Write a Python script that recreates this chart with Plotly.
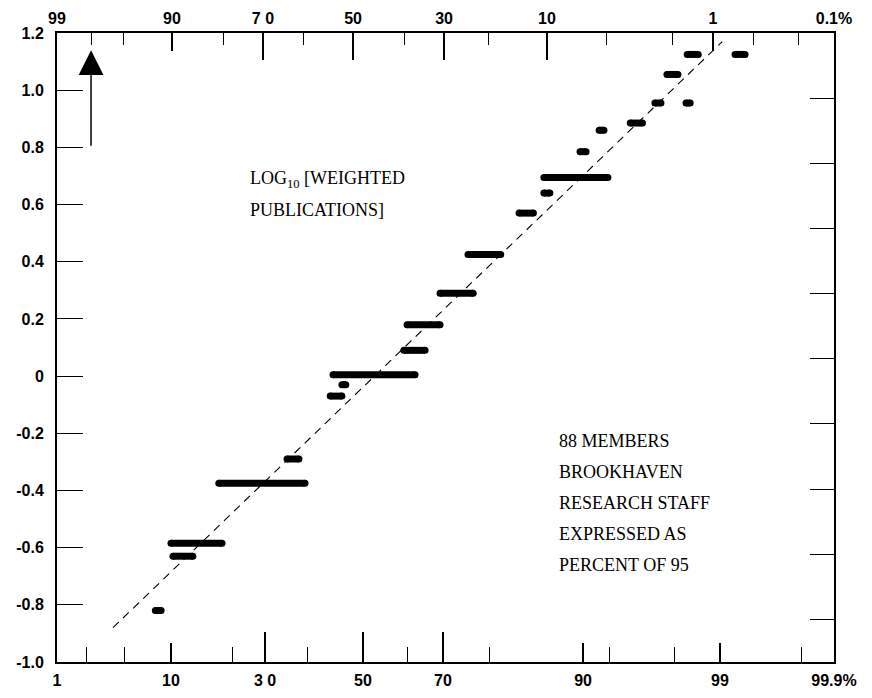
import numpy as np
import plotly.graph_objects as go
from statistics import NormalDist

# ---------------- data ----------------
# log10(weighted publications) level of each plotted bar
LEVEL = [-0.82, -0.63, -0.585, -0.375, -0.29, -0.07, -0.03, 0.005, 0.09, 0.18,
         0.29, 0.425, 0.57, 0.64, 0.695, 0.785, 0.86, 0.885, 0.955, 0.955,
         1.055, 1.125, 1.125]
# cumulative percent span of each bar (bottom scale)
PCT_LO = [8.0, 10.25, 10.0, 17.3, 35.1, 44.1, 46.2, 44.6, 59.1, 59.8,
          69.2, 75.7, 83.7, 86.4, 86.4, 89.75, 93.3, 96.2, 97.33, 98.32,
          97.77, 98.35, 99.24]
PCT_HI = [8.7, 13.0, 17.9, 39.5, 38.0, 46.2, 46.9, 62.1, 65.0, 69.2,
          76.8, 81.5, 85.3, 87.0, 94.7, 90.7, 94.1, 96.8, 97.56, 98.42,
          98.11, 98.6, 99.37]
# fitted (dashed) line
FIT_PCT = [3.8, 99.04]
FIT_LEVEL = [-0.88, 1.17]

# tick labels
BOTTOM_LABEL_PCT = [1, 10, 30, 50, 70, 90, 99, 99.9]
BOTTOM_LABELS = ["1", "10", "3 0", "50", "70", "90", "99", "99.9%"]
BOTTOM_MINOR_PCT = [2, 5, 20, 40, 60, 80, 95, 98, 99.8]
TOP_LABEL_PCT = [99, 90, 70, 50, 30, 10, 1, 0.1]
TOP_LABELS = ["99", "90", "7 0", "50", "30", "10", "1", "0.1%"]
TOP_MINOR_PCT = [98, 95, 80, 60, 40, 20, 5, 2, 0.5, 0.2]
Y_TICKS = [-1.0, -0.8, -0.6, -0.4, -0.2, 0, 0.2, 0.4, 0.6, 0.8, 1.0, 1.2]
Y_LABELS = ["-1.0", "-0.8", "-0.6", "-0.4", "-0.2", "0", "0.2", "0.4", "0.6", "0.8", "1.0", "1.2"]
NOTE_LINES = ["88 MEMBERS", "BROOKHAVEN", "RESEARCH STAFF", "EXPRESSED AS", "PERCENT OF 95"]

# ---------------- probability-paper scale (as printed) ----------------
# percent -> fraction of plot width, probit-interpolated between printed rulings
BOTTOM_SCALE_PCT = [1, 2, 5, 10, 20, 30, 40, 50, 60, 70, 80, 90, 95, 98, 99, 99.8, 99.9]
BOTTOM_SCALE_POS = [0.0, 0.0386, 0.0875, 0.1467, 0.2265, 0.2677, 0.3218, 0.3938,
                    0.4517, 0.4968, 0.5560, 0.6770, 0.7117, 0.7941, 0.8533, 0.9588, 1.0]
TOP_SCALE_PCT = [99, 98, 95, 90, 80, 70, 60, 50, 40, 30, 20, 10, 5, 2, 1, 0.5, 0.2, 0.1]
TOP_SCALE_POS = [0.0, 0.0438, 0.0862, 0.1480, 0.2149, 0.2651, 0.3166, 0.3810, 0.4466,
                 0.4981, 0.5547, 0.6306, 0.7066, 0.7915, 0.8443, 0.8958, 0.9537, 1.0]

nd = NormalDist()


def make_scale(pcts, poss):
    z = [nd.inv_cdf(p / 100) for p in pcts]
    order = np.argsort(z)
    zs = np.array(z)[order]
    ps = np.array(poss)[order]

    def f(p):
        return float(np.interp(nd.inv_cdf(p / 100), zs, ps))
    return f


bx = make_scale(BOTTOM_SCALE_PCT, BOTTOM_SCALE_POS)
tx = make_scale(TOP_SCALE_PCT, TOP_SCALE_POS)

# ---------------- figure ----------------
fig = go.Figure()

xs, ys = [], []
for lo, hi, lv in zip(PCT_LO, PCT_HI, LEVEL):
    xs += [bx(lo), bx(hi), None]
    ys += [lv, lv, None]
fig.add_trace(go.Scatter(x=xs, y=ys, mode="lines+markers",
                         line=dict(color="black", width=7),
                         marker=dict(color="black", size=7, symbol="circle"),
                         hoverinfo="skip", showlegend=False))

fig.add_trace(go.Scatter(x=[bx(p) for p in FIT_PCT], y=FIT_LEVEL, mode="lines",
                         line=dict(color="black", width=1.1, dash="8px,6px"),
                         hoverinfo="skip", showlegend=False))

# empty traces so that the overlaid frame axes (top scale, long ticks, right side) are drawn
for xa, ya in [("x2", "y"), ("x3", "y"), ("x4", "y"), ("x", "y2")]:
    fig.add_trace(go.Scatter(x=[None], y=[None], xaxis=xa, yaxis=ya, mode="markers",
                             hoverinfo="skip", showlegend=False))

tickfont = dict(family="Liberation Sans, Arial, sans-serif", size=16, color="black", weight="bold")
axis_common = dict(range=[0, 1], showgrid=False, zeroline=False, fixedrange=True, automargin=False)

fig.update_layout(
    width=872, height=698,
    margin=dict(l=49, r=46, t=25, b=44, autoexpand=False),
    plot_bgcolor="white", paper_bgcolor="white",
    xaxis=dict(**axis_common, side="bottom", showline=True, linecolor="black", linewidth=1.5,
               ticks="inside", ticklen=19, tickwidth=1.5, tickcolor="black",
               tickmode="array", tickvals=[bx(p) for p in BOTTOM_LABEL_PCT], ticktext=BOTTOM_LABELS,
               tickfont=tickfont, ticklabelstandoff=3,
               minor=dict(tickmode="array", tickvals=[bx(p) for p in BOTTOM_MINOR_PCT],
                          ticks="inside", ticklen=15, tickwidth=1.3, tickcolor="black")),
    xaxis3=dict(**axis_common, overlaying="x", anchor="y", side="bottom", showline=False,
                ticks="inside", ticklen=30, tickwidth=1.5, tickcolor="black",
                tickmode="array", tickvals=[bx(p) for p in [30, 50, 70]], showticklabels=False),
    xaxis2=dict(**axis_common, overlaying="x", anchor="y", side="top", showline=True,
                linecolor="black", linewidth=1.5,
                ticks="inside", ticklen=18, tickwidth=1.5, tickcolor="black",
                tickmode="array", tickvals=[tx(p) for p in TOP_LABEL_PCT], ticktext=TOP_LABELS,
                tickfont=tickfont, ticklabelstandoff=1,
                minor=dict(tickmode="array", tickvals=[tx(p) for p in TOP_MINOR_PCT],
                           ticks="inside", ticklen=12, tickwidth=1.3, tickcolor="black")),
    xaxis4=dict(**axis_common, overlaying="x", anchor="y", side="top", showline=False,
                ticks="inside", ticklen=27, tickwidth=1.5, tickcolor="black",
                tickmode="array", tickvals=[tx(p) for p in [70, 50, 30, 10]], showticklabels=False),
    yaxis=dict(range=[-1.0, 1.2], showgrid=False, zeroline=False, fixedrange=True, automargin=False,
               showline=True, linecolor="black", linewidth=2,
               ticks="inside", ticklen=26, tickwidth=1.3, tickcolor="black",
               tickmode="array", tickvals=Y_TICKS, ticktext=Y_LABELS,
               tickfont=tickfont, ticklabelstandoff=8),
    yaxis2=dict(range=[-1.0, 1.2], overlaying="y", anchor="x", side="right", automargin=False,
                showgrid=False, zeroline=False, fixedrange=True,
                showline=True, linecolor="black", linewidth=1.5,
                ticks="inside", ticklen=24, tickwidth=1.3, tickcolor="black",
                tickmode="linear", tick0=-0.85, dtick=0.2275, showticklabels=False),
)

serif = dict(family="Liberation Serif, Times New Roman, serif", size=18, color="black")
fig.add_annotation(x=0.2458, y=0.7663, xref="paper", yref="paper", xanchor="left", yanchor="middle",
                   text="LOG<sub>10</sub> [WEIGHTED", showarrow=False, font=serif)
fig.add_annotation(x=0.2458, y=0.7186, xref="paper", yref="paper", xanchor="left", yanchor="middle",
                   text="PUBLICATIONS]", showarrow=False, font=serif)
for i, line in enumerate(NOTE_LINES):
    fig.add_annotation(x=0.6435, y=0.3514 - i * 0.0493, xref="paper", yref="paper",
                       xanchor="left", yanchor="middle", text=line, showarrow=False, font=serif)

# upward arrow in the upper-left corner
fig.add_annotation(x=0.0438, y=1.14, xref="paper", yref="y", ax=0, ay=0.80, axref="pixel", ayref="y",
                   text="", showarrow=True, arrowhead=2, arrowsize=3.3, arrowwidth=1.5, arrowcolor="black")

fig.write_html("out.html")
